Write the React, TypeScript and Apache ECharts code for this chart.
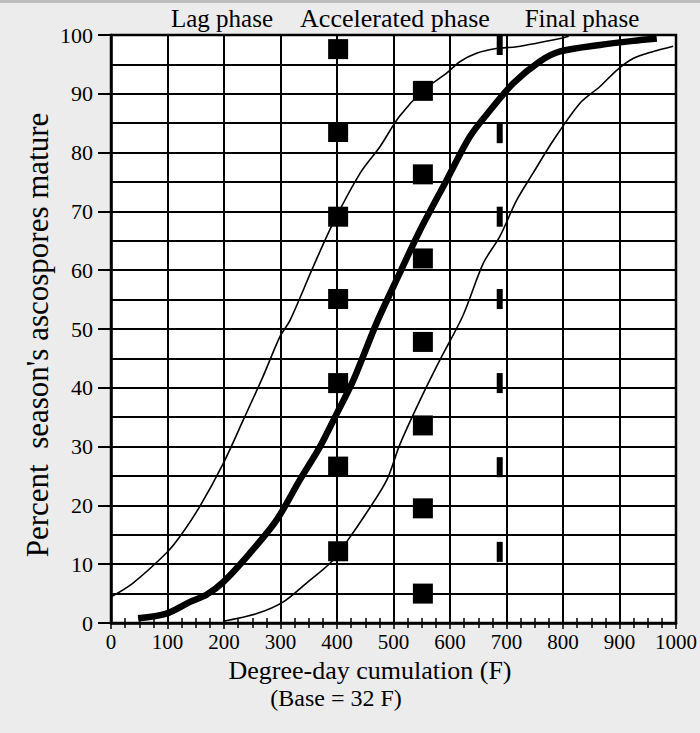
import React, { useEffect, useRef } from "react";
import * as echarts from "echarts";

const xTickValues = [0, 100, 200, 300, 400, 500, 600, 700, 800, 900, 1000];
const yTickValues = [0, 10, 20, 30, 40, 50, 60, 70, 80, 90, 100];
const phaseLabels = ["Lag phase", "Accelerated phase", "Final phase"];
const xTitle = "Degree-day cumulation (F)";
const xSubTitle = "(Base = 32 F)";
const yTitle = "Percent  season's ascospores mature";

// thick central curve (mean)
const meanCurve = [
  [48, 0.8], [98, 1.6], [140, 3.6], [169, 4.8], [199, 7.0], [246, 11.9], [293, 17.5],
  [334, 24.3], [370, 30], [400, 35.7], [429, 41.3], [470, 51], [511, 59.5], [547, 66.8],
  [594, 75.3], [635, 82.7], [671, 87.2], [712, 91.8], [759, 95.5], [795, 97.2],
  [865, 98.3], [924, 99.0], [966, 99.4],
];

// thin early curve
const earlyCurve = [
  [1, 4.5], [39, 6.8], [98, 11.9], [122, 14.7], [157, 19.8], [199, 27.2], [234, 34.5],
  [269, 41.9], [299, 48.7], [317, 51.5], [358, 60.6], [393, 68.0], [441, 76.5],
  [476, 81.0], [510, 86.1], [553, 90.6], [594, 93.5], [618, 95.5], [647, 96.9],
  [682, 97.7], [718, 98.0], [795, 99.4], [810, 99.8],
];

// thin late curve
const lateCurve = [
  [199, 0.3], [258, 1.6], [305, 3.6], [346, 6.8], [388, 10.2], [417, 13.8], [452, 18.7],
  [488, 24.3], [511, 30.3], [547, 37.9], [582, 44.7], [623, 52.3], [659, 61.2],
  [688, 65.7], [718, 71.9], [747, 76.5], [783, 82.1], [830, 88.4], [865, 91.2],
  [895, 94.0], [924, 96.0], [960, 97.2], [995, 98.1],
];

// square markers
const squaresAt400X = 402;
const squaresAt400Y = [97.6, 83.5, 69.1, 55.1, 40.8, 26.6, 12.2];
const squaresAt550X = 552;
const squaresAt550Y = [90.5, 76.3, 62.0, 47.8, 33.6, 19.5, 5.0];
const halfSquaresX = 688;
const halfSquaresY = [98.3, 83.3, 69.1, 55.1, 40.8, 26.5, 12.1];

const FONT = "Liberation Serif";

export default function App() {
  const ref = useRef<HTMLDivElement>(null);

  useEffect(() => {
    if (!ref.current) return;
    const chart = echarts.init(ref.current, null, { renderer: "svg" });
    const black = "#000";

    const txt = (text: string, x: number, y: number, size: number, rotation = 0) => ({
      type: "text",
      x,
      y,
      rotation,
      style: {
        text,
        fill: black,
        font: `${size}px "${FONT}"`,
        textAlign: "center",
        textVerticalAlign: "middle",
      },
    });

    const option: any = {
      animation: false,
      backgroundColor: "#ececec",
      grid: {
        left: 111,
        right: 24,
        top: 35,
        bottom: 110,
        show: true,
        backgroundColor: "#ffffff",
        borderColor: black,
        borderWidth: 2.5,
      },
      xAxis: [
        {
          type: "value",
          min: 0,
          max: 1000,
          interval: 100,
          position: "bottom",
          axisLine: { show: true, lineStyle: { color: black, width: 2.5 } },
          axisTick: { show: true, inside: false, length: 6, lineStyle: { color: black, width: 1.5 } },
          axisLabel: {
            show: true,
            color: black,
            fontFamily: FONT,
            fontSize: 21,
            margin: 8,
            formatter: (v: number) => String(v),
          },
          splitLine: { show: true, lineStyle: { color: black, width: 2 } },
        },
        {
          type: "value",
          min: 0,
          max: 1000,
          interval: 100,
          position: "top",
          axisLine: { show: false },
          axisTick: { show: false, inside: true },
          minorTick: { show: true, splitNumber: 4, length: 5, lineStyle: { color: black, width: 1.5 } },
          axisLabel: { show: false },
          splitLine: { show: false },
        },
        {
          type: "value",
          min: 0,
          max: 1000,
          interval: 100,
          position: "bottom",
          axisLine: { show: false },
          axisTick: { show: false, inside: true },
          minorTick: { show: true, splitNumber: 4, length: 5, lineStyle: { color: black, width: 1.5 } },
          axisLabel: { show: false },
          splitLine: { show: false },
        },
      ],
      yAxis: [
        {
          type: "value",
          min: 0,
          max: 100,
          interval: 10,
          axisLine: { show: true, lineStyle: { color: black, width: 2.5 } },
          axisTick: { show: true, inside: false, length: 13, lineStyle: { color: black, width: 2 } },
          axisLabel: {
            color: black,
            fontFamily: FONT,
            fontSize: 22,
            margin: 18,
            formatter: (v: number) => String(v),
          },
          splitLine: { show: false },
        },
        {
          type: "value",
          min: 0,
          max: 100,
          interval: 5,
          position: "left",
          axisLine: { show: false },
          axisTick: { show: false },
          axisLabel: { show: false },
          splitLine: { show: true, lineStyle: { color: black, width: 2 } },
        },
      ],
      graphic: [
        { type: "rect", shape: { x: 0, y: 0, width: 700, height: 3 }, style: { fill: "#bdbdbd" } },
        txt(phaseLabels[0], 222, 18, 25),
        txt(phaseLabels[1], 395, 18, 26),
        txt(phaseLabels[2], 582, 18, 25),
        txt(xTitle, 370, 670, 26),
        txt(xSubTitle, 336, 698, 24),
        txt(yTitle, 37, 335, 31, Math.PI / 2),
      ],
      series: [
        {
          type: "line",
          data: earlyCurve,
          smooth: 0.3,
          showSymbol: false,
          lineStyle: { color: black, width: 1.6 },
          z: 3,
        },
        {
          type: "line",
          data: lateCurve,
          smooth: 0.3,
          showSymbol: false,
          lineStyle: { color: black, width: 1.6 },
          z: 3,
        },
        {
          type: "line",
          data: meanCurve,
          smooth: 0.3,
          showSymbol: false,
          lineStyle: { color: black, width: 6.5 },
          z: 4,
        },
        {
          type: "scatter",
          data: squaresAt400Y.map((y) => [squaresAt400X, y]),
          symbol: "rect",
          symbolSize: 20,
          itemStyle: { color: black, opacity: 1 },
          z: 5,
        },
        {
          type: "scatter",
          data: squaresAt550Y.map((y) => [squaresAt550X, y]),
          symbol: "rect",
          symbolSize: 20,
          itemStyle: { color: black, opacity: 1 },
          z: 5,
        },
        {
          type: "scatter",
          data: halfSquaresY.map((y) => [halfSquaresX, y]),
          symbol: "rect",
          symbolSize: [6, 20],
          itemStyle: { color: black, opacity: 1 },
          z: 5,
        },
      ],
    };

    chart.setOption(option);
    return () => chart.dispose();
  }, []);

  return (
    <div
      ref={ref}
      style={{ position: "fixed", left: 0, top: 0, width: 700, height: 733 }}
    />
  );
}
